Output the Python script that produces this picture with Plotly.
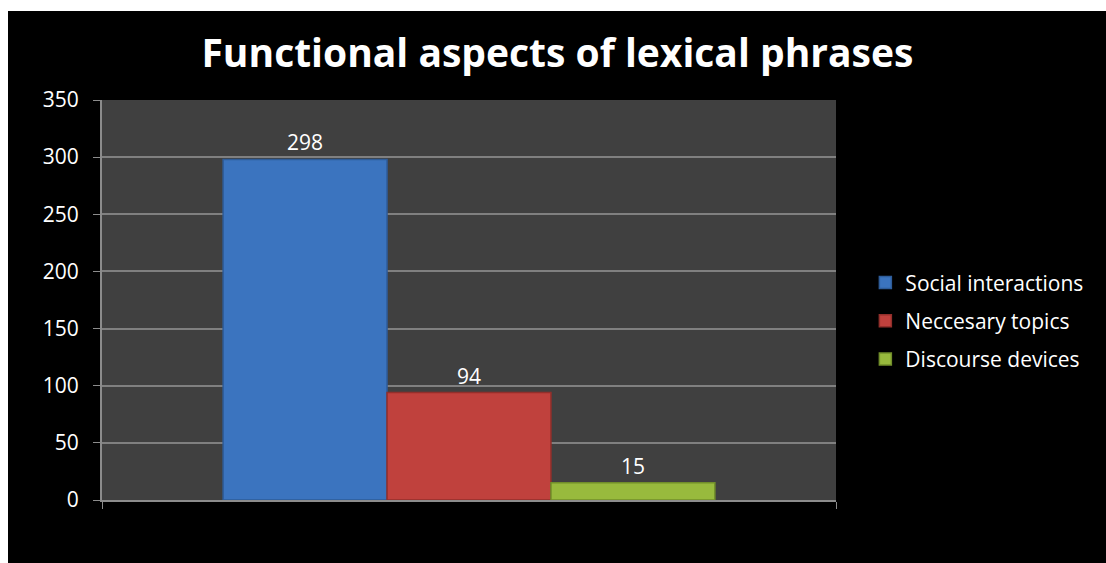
import plotly.graph_objects as go

# Chart data
series_names = ["Social interactions", "Neccesary topics", "Discourse devices"]
series_values = [298, 94, 15]
series_colors = ["#3B74BF", "#C0413D", "#98BA3D"]
series_edges = ["#2E5C99", "#922F2B", "#718E2A"]
category = [""]
y_ticks = [0, 50, 100, 150, 200, 250, 300, 350]

W, H = 1106, 563
L, R, T, B = 102, 270, 100, 63
FONT = "Open Sans"

fig = go.Figure()
for name, val, col, edge in zip(series_names, series_values, series_colors, series_edges):
    fig.add_trace(go.Bar(
        x=category, y=[val], name=name, legendgroup=name,
        marker=dict(color=col, line=dict(color=edge, width=1.5)),
        text=[str(val)], textposition="outside",
        textfont=dict(color="white", size=21, family=FONT),
        cliponaxis=False,
    ))

# thin white margin along the top and left edges of the black page
pw = W - L - R
ph = H - T - B
fig.add_shape(type="rect", layer="above", xref="paper", yref="paper",
              x0=-L / pw, x1=(W - L) / pw,
              y0=(ph + T - 11) / ph, y1=(ph + T) / ph,
              fillcolor="white", line=dict(width=0))
fig.add_shape(type="rect", layer="above", xref="paper", yref="paper",
              x0=-L / pw, x1=(8 - L) / pw,
              y0=-B / ph, y1=(ph + T) / ph,
              fillcolor="white", line=dict(width=0))

fig.update_layout(
    width=W, height=H,
    margin=dict(l=L, r=R, t=T, b=B),
    paper_bgcolor="black",
    plot_bgcolor="#404040",
    barmode="group",
    bargap=0.33,
    bargroupgap=0,
    title=dict(
        text="<b>Functional aspects of lexical phrases</b>",
        x=0.504, xanchor="center", y=0.905, yanchor="middle",
        font=dict(family=FONT, size=39, color="white"),
    ),
    font=dict(family=FONT, color="white", size=21),
    legend=dict(
        x=1.04, xanchor="left", y=0.448, yanchor="middle",
        font=dict(size=21, color="white", family=FONT),
        bgcolor="rgba(0,0,0,0)",
        tracegroupgap=8,
        itemwidth=30,
    ),
    xaxis=dict(
        showline=True, linecolor="#8C8C8C", linewidth=2,
        ticks="outside", tickson="boundaries", ticklen=7, tickcolor="#8C8C8C",
        showticklabels=False, showgrid=False,
    ),
    yaxis=dict(
        range=[0, 350], tickvals=y_ticks,
        showline=True, linecolor="#8C8C8C", linewidth=2,
        ticks="outside", ticklen=7, tickcolor="#8C8C8C",
        ticklabelstandoff=10,
        gridcolor="#808080", gridwidth=1.5,
        tickfont=dict(size=21, color="white", family=FONT),
        zeroline=False,
    ),
)

fig.write_html("out.html")
